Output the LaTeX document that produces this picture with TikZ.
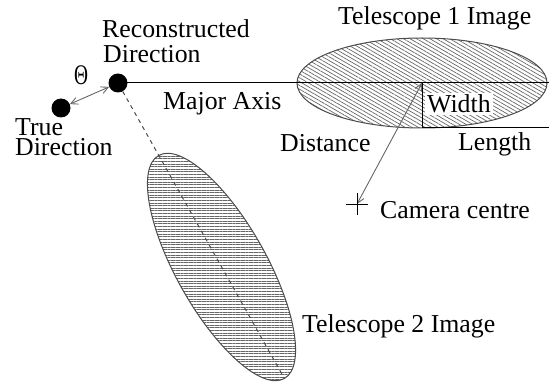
\documentclass[tikz,border=0pt]{standalone}
\usepackage{fontspec}
\setmainfont{Liberation Serif}
\usetikzlibrary{patterns.meta,arrows.meta}
\begin{document}
\begin{tikzpicture}[x=1pt,y=-1pt,
  lbl/.style={anchor=base west,inner sep=0pt,font=\fontsize{25.8}{28}\selectfont},
  dot/.style={circle,fill=black,inner sep=0pt,minimum size=19pt},
  outline/.style={draw=black!70,line width=1pt},
  gtip/.style={draw=black!60,line width=0.9pt,{Straight Barb[length=7pt,width=7pt]}-{Straight Barb[length=7pt,width=7pt]}},
  hatch/.style={pattern color=black!60}
]
\useasboundingbox (0,0) rectangle (549,385);

% Telescope 1 image
\begin{scope}
  \clip (422,83) ellipse [x radius=125pt, y radius=45pt];
  \fill[hatch,pattern={Lines[angle=-30,distance=3.3pt,line width=0.7pt]}] (290,30) rectangle (560,140);
\end{scope}
\draw[outline] (422,83) ellipse [x radius=125pt, y radius=45pt];

% Telescope 2 image
\begin{scope}
  \clip[shift={(221.5,267)},rotate=-60.6] (0,0) ellipse [x radius=128pt, y radius=45pt];
  \fill[hatch,pattern={Lines[angle=0,distance=2.6pt,line width=0.7pt]}] (130,140) rectangle (310,390);
\end{scope}
\draw[outline,shift={(221.5,267)},rotate=-60.6] (0,0) ellipse [x radius=128pt, y radius=45pt];

% coordinates
\coordinate (e1c) at (422,83);
\coordinate (ax) at (549,83);
\coordinate (wb) at (422,128);
\coordinate (lend) at (549,128);
\coordinate (cam) at (357,204);
\coordinate (e2end) at (284.4,378.5);

% dots
\node[dot] (reco) at (118,83) {};
\node[dot] (true) at (61,108) {};

% lines
\draw[line width=1pt] (reco.center) -- (ax);
\draw[line width=1pt] (e1c) -- (wb) -- (lend);
\draw[draw=black!70,line width=1pt,dash pattern=on 4pt off 4pt] (reco) -- (e2end);
\draw[gtip] (true) -- (reco);
\draw[gtip] (cam) -- (e1c);

% camera centre cross
\draw[line width=0.9pt] (cam) ++(-11,0) -- ++(22,0);
\draw[line width=0.9pt] (cam) ++(0,-11) -- ++(0,22);

% labels
\node[lbl] (lrec1) at (102,38) {Reconstructed};
\node[lbl] (lrec2) at (103,63) {Direction};
\node[lbl,xscale=0.75,yscale=1.1] (ltheta) at (74,85) {Θ};
\node[lbl] (ltrue1) at (15,136) {True};
\node[lbl] (ltrue2) at (15,156) {Direction};
\node[lbl] (lmaj) at (163,110) {Major Axis};
\node[lbl] (ltel1) at (338,25) {Telescope 1 Image};
\node[lbl,fill=white,inner xsep=2pt,inner ysep=2pt] (lwid) at (425,113) {Width};
\node[lbl] (ldist) at (280,152) {Distance};
\node[lbl] (llen) at (458,151) {Length};
\node[lbl] (lcam) at (380,218) {Camera centre};
\node[lbl] (ltel2) at (302,332) {Telescope 2 Image};
\end{tikzpicture}
\end{document}
